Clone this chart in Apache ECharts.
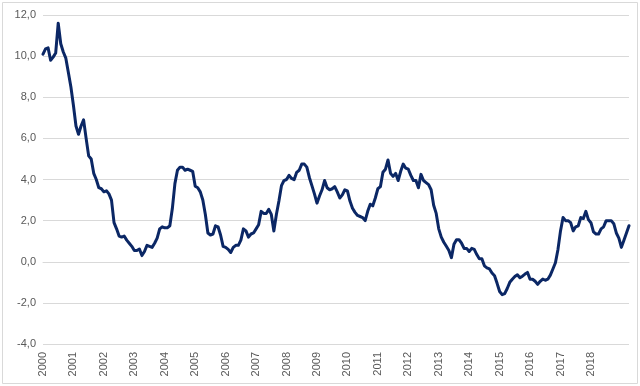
<!DOCTYPE html>
<html>
<head>
<meta charset="utf-8">
<script src="https://cdn.jsdelivr.net/npm/echarts@6/dist/echarts.min.js"></script>
<style>
html,body{margin:0;padding:0;background:#fff;}
#chart{width:640px;height:386px;}
</style>
</head>
<body>
<div id="chart"></div>
<script>
// Year tick labels (one per January)
var yearLabels = ['2000','2001','2002','2003','2004','2005','2006','2007','2008','2009',
                  '2010','2011','2012','2013','2014','2015','2016','2017','2018'];
var startYear = 2000;
var monthCount = 232;

// Monthly values, Jan 2000 onward
var values2000_2003 = [
  10.1,10.35,10.4,9.8,9.95,10.15,11.6,10.6,10.2,9.9,9.2,8.5,
  7.6,6.6,6.2,6.6,6.9,6.0,5.15,5.0,4.3,4.0,3.6,3.55,
  3.4,3.45,3.3,3.0,1.9,1.6,1.25,1.2,1.25,1.05,0.9,0.75,
  0.55,0.55,0.62,0.3,0.5,0.8,0.75,0.7,0.9,1.15,1.6,1.7
];
var values2004_2007 = [
  1.65,1.65,1.75,2.6,3.8,4.45,4.6,4.6,4.45,4.5,4.45,4.4,
  3.67,3.6,3.4,3.0,2.3,1.4,1.3,1.35,1.75,1.7,1.3,0.75,
  0.7,0.6,0.45,0.7,0.8,0.8,1.05,1.6,1.5,1.2,1.35,1.4,
  1.6,1.8,2.45,2.35,2.35,2.55,2.3,1.5,2.3,2.95,3.7,3.95
];
var values2008_2011 = [
  4.0,4.2,4.05,3.99,4.35,4.45,4.75,4.75,4.6,4.1,3.7,3.3,
  2.85,3.2,3.5,3.95,3.6,3.5,3.55,3.65,3.4,3.1,3.25,3.5,
  3.45,2.95,2.6,2.4,2.25,2.2,2.15,2.0,2.45,2.8,2.72,3.1,
  3.55,3.65,4.35,4.5,4.95,4.3,4.15,4.3,3.95,4.4,4.75,4.55
];
var values2012_2015 = [
  4.5,4.2,3.95,3.95,3.6,4.25,3.95,3.85,3.75,3.5,2.75,2.35,
  1.6,1.2,0.95,0.75,0.55,0.2,0.85,1.07,1.07,0.9,0.65,0.65,
  0.5,0.65,0.6,0.35,0.15,0.15,-0.2,-0.3,-0.35,-0.55,-0.68,-1.05,
  -1.45,-1.6,-1.55,-1.3,-1.0,-0.85,-0.72,-0.63,-0.78,-0.7,-0.6,-0.52
];
var values2016_2019 = [
  -0.85,-0.85,-0.95,-1.1,-0.95,-0.84,-0.9,-0.85,-0.65,-0.35,-0.05,0.6,
  1.5,2.15,2.0,2.0,1.9,1.5,1.7,1.75,2.15,2.1,2.45,2.05,
  1.9,1.45,1.35,1.35,1.6,1.7,2.0,2.0,2.0,1.85,1.4,1.15,
  0.7,1.05,1.4,1.75
];
var values = [].concat(values2000_2003, values2004_2007, values2008_2011, values2012_2015, values2016_2019);

var categories = [];
for (var i = 0; i < values.length; i++) {
  var y = startYear + Math.floor(i / 12);
  var m = (i % 12) + 1;
  categories.push(y + '-' + (m < 10 ? '0' + m : m));
}

var chart = echarts.init(document.getElementById('chart'), null, {renderer: 'canvas'});
chart.setOption({
  backgroundColor: '#ffffff',
  animation: false,
  graphic: [{
    type: 'rect',
    shape: {x: 2.5, y: 2.5, width: 635, height: 381},
    style: {fill: 'none', stroke: '#d9d9d9', lineWidth: 1},
    silent: true
  }],
  grid: {left: 43, right: 11, top: 15, bottom: 42, containLabel: false},
  xAxis: {
    type: 'category',
    data: categories,
    boundaryGap: false,
    axisLine: {show: true, lineStyle: {color: '#d9d9d9', width: 1}},
    axisTick: {show: false},
    splitLine: {show: false},
    axisLabel: {
      rotate: 90,
      margin: 8,
      color: '#595959',
      fontSize: 11,
      fontFamily: 'Liberation Sans, Arial, sans-serif',
      interval: function (idx) {
        return idx % 12 === 0 && (idx / 12) < yearLabels.length;
      },
      formatter: function (val, idx) {
        return yearLabels[Math.floor(idx / 12)] || '';
      }
    }
  },
  yAxis: {
    type: 'value',
    min: -4,
    max: 12,
    interval: 2,
    axisLine: {show: false},
    axisTick: {show: false},
    splitLine: {show: true, lineStyle: {color: '#d9d9d9', width: 1}},
    axisLabel: {
      color: '#595959',
      fontSize: 11,
      margin: 7,
      fontFamily: 'Liberation Sans, Arial, sans-serif',
      formatter: function (v) { return v.toFixed(1).replace('.', ','); }
    }
  },
  series: [{
    type: 'line',
    data: values,
    showSymbol: false,
    symbol: 'none',
    smooth: false,
    lineStyle: {color: '#0b2765', width: 3, join: 'round', cap: 'round'}
  }]
});
</script>
</body>
</html>
